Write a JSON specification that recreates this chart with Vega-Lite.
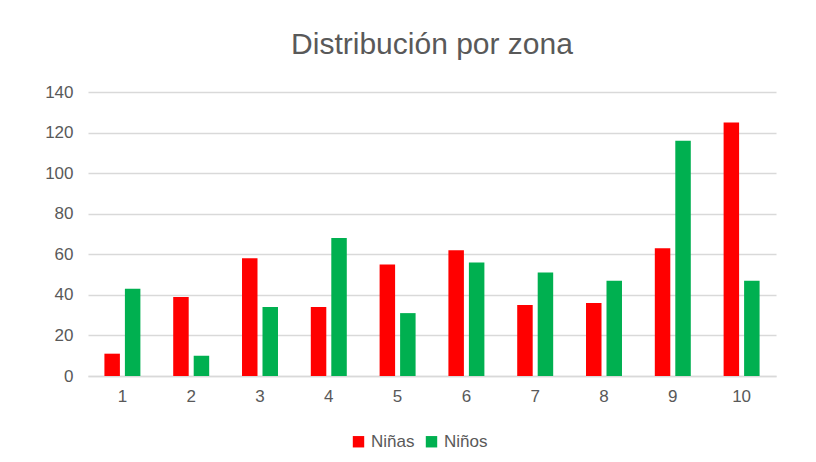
{
  "$schema": "https://vega.github.io/schema/vega-lite/v6.json",
  "width": 688,
  "height": 284,
  "autosize": {"type": "none"},
  "padding": {"left": 88, "top": 92, "right": 40, "bottom": 86},
  "background": "white",
  "title": {
    "text": "Distribución por zona",
    "fontSize": 30,
    "font": "Liberation Sans",
    "fontWeight": "normal",
    "color": "#595959",
    "anchor": "middle",
    "offset": 23
  },
  "data": {
    "values": [
      {"zona": "1", "sexo": "Niñas", "valor": 11},
      {"zona": "1", "sexo": "Niños", "valor": 43},
      {"zona": "2", "sexo": "Niñas", "valor": 39},
      {"zona": "2", "sexo": "Niños", "valor": 10},
      {"zona": "3", "sexo": "Niñas", "valor": 58},
      {"zona": "3", "sexo": "Niños", "valor": 34},
      {"zona": "4", "sexo": "Niñas", "valor": 34},
      {"zona": "4", "sexo": "Niños", "valor": 68},
      {"zona": "5", "sexo": "Niñas", "valor": 55},
      {"zona": "5", "sexo": "Niños", "valor": 31},
      {"zona": "6", "sexo": "Niñas", "valor": 62},
      {"zona": "6", "sexo": "Niños", "valor": 56},
      {"zona": "7", "sexo": "Niñas", "valor": 35},
      {"zona": "7", "sexo": "Niños", "valor": 51},
      {"zona": "8", "sexo": "Niñas", "valor": 36},
      {"zona": "8", "sexo": "Niños", "valor": 47},
      {"zona": "9", "sexo": "Niñas", "valor": 63},
      {"zona": "9", "sexo": "Niños", "valor": 116},
      {"zona": "10", "sexo": "Niñas", "valor": 125},
      {"zona": "10", "sexo": "Niños", "valor": 47}
    ]
  },
  "mark": {"type": "bar"},
  "encoding": {
    "x": {
      "field": "zona",
      "type": "nominal",
      "sort": ["1","2","3","4","5","6","7","8","9","10"],
      "scale": {"paddingInner": 0.477, "paddingOuter": 0.2385},
      "axis": {
        "title": null,
        "labelAngle": 0,
        "ticks": false,
        "domain": true,
        "domainColor": "#d9d9d9",
        "domainWidth": 1.5,
        "labelPadding": 12,
        "labelFontSize": 17,
        "labelColor": "#595959",
        "labelFont": "Liberation Sans"
      }
    },
    "xOffset": {
      "field": "sexo",
      "type": "nominal",
      "sort": ["Niñas", "Niños"],
      "scale": {"paddingInner": 0.244, "paddingOuter": 0}
    },
    "y": {
      "field": "valor",
      "type": "quantitative",
      "scale": {"domain": [0, 140], "nice": false},
      "axis": {
        "title": null,
        "values": [0, 20, 40, 60, 80, 100, 120, 140],
        "ticks": false,
        "domain": false,
        "grid": true,
        "gridColor": "#d9d9d9",
        "gridWidth": 1.5,
        "labelPadding": 15,
        "labelFontSize": 17,
        "labelColor": "#595959",
        "labelFont": "Liberation Sans"
      }
    },
    "color": {
      "field": "sexo",
      "type": "nominal",
      "sort": ["Niñas", "Niños"],
      "scale": {"domain": ["Niñas", "Niños"], "range": ["#ff0000", "#00b050"]},
      "legend": {
        "title": null,
        "orient": "none",
        "legendX": 262,
        "legendY": 341,
        "direction": "horizontal",
        "symbolType": "square",
        "symbolSize": 130,
        "symbolStrokeWidth": 0,
        "labelFontSize": 17,
        "labelColor": "#595959",
        "labelFont": "Liberation Sans",
        "columnPadding": 8,
        "labelOffset": 4
      }
    }
  },
  "config": {
    "view": {"stroke": null}
  }
}
